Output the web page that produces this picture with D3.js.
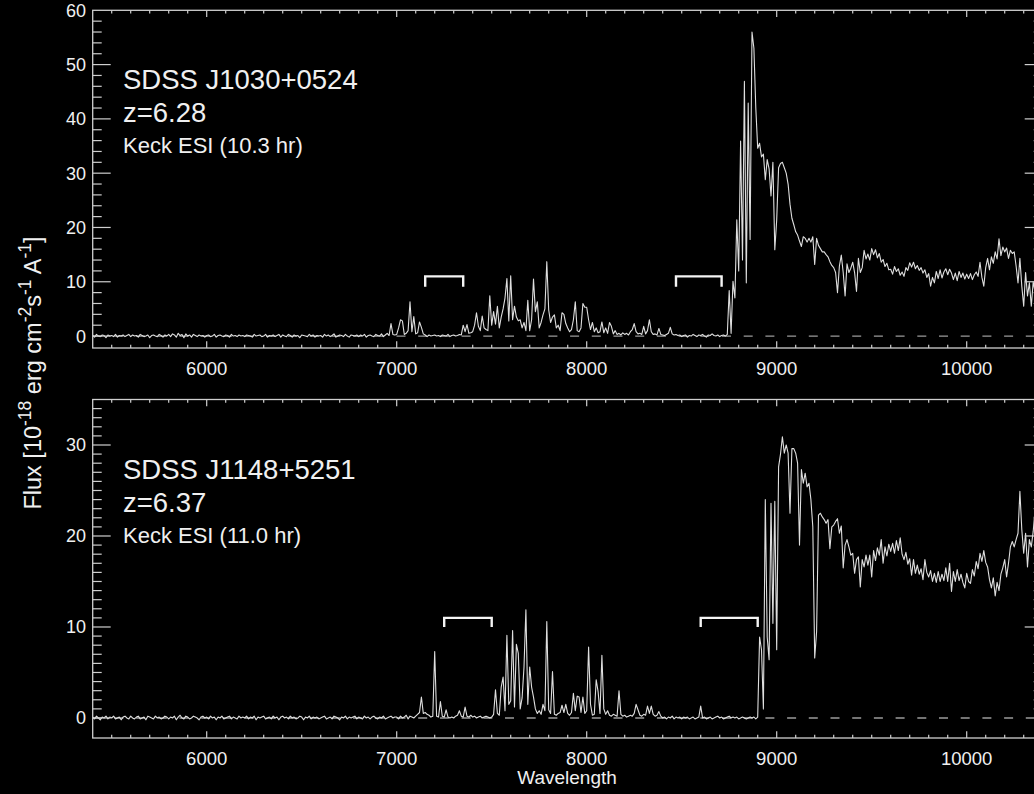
<!DOCTYPE html>
<html>
<head>
<meta charset="utf-8">
<script src="https://cdn.jsdelivr.net/npm/d3@7"></script>
<style>
  html, body { margin: 0; padding: 0; background: #000; }
  svg { display: block; }
  text { font-family: "Liberation Sans", Arial, Helvetica, sans-serif; fill: #f0f0f0; }
</style>
</head>
<body>
<svg id="chart" width="1034" height="794"></svg>
<script>
// Spectra sampled on a regular grid: WAVE_START + i * WAVE_STEP (Angstrom)
const WAVE_START = 5400;
const WAVE_STEP = 10;

const xTickValues = [6000, 7000, 8000, 9000, 10000];

// SDSS J1030+0524, flux in 1e-18 erg/cm^2/s/A, one row per 200 A
const fluxJ1030 = [
  /* 5400 */ 0.1, -0.2, 0.3, 0.0, -0.1, 0.2, 0.1, -0.3, 0.2, 0.0, 0.1, -0.1, 0.3, -0.2, 0.1, 0.0, 0.2, -0.1, 0.1, 0.3,
  /* 5600 */ -0.1, 0.2, 0.0, 0.1, -0.2, 0.3, 0.1, -0.1, 0.0, 0.2, -0.3, 0.1, 0.2, 0.0, -0.1, 0.3, 0.1, -0.2, 0.2, 0.0,
  /* 5800 */ 0.3, -0.1, 0.4, 0.2, -0.2, 0.5, 0.1, 0.3, -0.3, 0.4, 0.0, 0.2, -0.2, 0.3, 0.1, -0.1, 0.2, 0.0, 0.1, -0.2,
  /* 6000 */ 0.1, 0.2, -0.1, 0.0, 0.3, -0.2, 0.1, 0.2, 0.0, -0.1, 0.2, 0.1, -0.2, 0.3, 0.0, 0.1, -0.1, 0.2, 0.0, 0.1,
  /* 6200 */ -0.1, 0.2, 0.1, 0.0, -0.2, 0.3, 0.0, 0.1, 0.2, -0.1, 0.0, 0.3, -0.2, 0.1, 0.0, 0.2, -0.1, 0.1, 0.3, -0.2,
  /* 6400 */ 0.2, 0.0, -0.1, 0.3, 0.1, -0.2, 0.2, 0.0, 0.1, -0.3, 0.2, 0.1, 0.0, -0.1, 0.3, 0.0, 0.2, -0.2, 0.1, 0.0,
  /* 6600 */ 0.1, -0.2, 0.3, 0.0, 0.2, -0.1, 0.1, 0.4, -0.2, 0.0, 0.2, 0.1, -0.1, 0.3, 0.0, -0.2, 0.2, 0.1, 0.0, 0.2,
  /* 6800 */ -0.1, 0.2, 0.0, 0.3, -0.2, 0.1, 0.2, 0.0, -0.1, 0.3, 0.1, 0.0, 0.4, -0.1, 0.2, 0.5, 0.1, 2.3, 0.3, 0.2,
  /* 7000 */ 0.3, 1.5, 3.0, 2.8, 0.3, 0.5, 1.0, 6.3, 0.8, 3.6, 0.4, 0.6, 2.6, 1.6, 0.4, 0.2, -0.1, 0.2, 0.0, 0.1,
  /* 7200 */ 0.2, 0.0, 0.1, -0.1, 0.2, 0.1, 0.0, 0.3, -0.1, 0.1, 0.2, 0.0, 0.1, 0.3, 0.2, 2.0, 0.8, 2.1, 0.5, 0.6,
  /* 7400 */ 0.8, 2.0, 4.3, 1.8, 1.0, 3.7, 1.5, 1.2, 1.0, 7.4, 2.0, 4.5, 2.2, 5.5, 1.5, 3.5, 5.0, 7.0, 10.6, 2.8,
  /* 7600 */ 11.1, 3.0, 5.5, 3.5, 2.8, 3.0, 1.5, 2.5, 1.0, 6.6, 1.0, 3.0, 10.5, 4.5, 6.3, 1.5, 2.5, 3.9, 5.0, 13.7,
  /* 7800 */ 4.8, 2.5, 3.5, 3.9, 1.5, 2.0, 1.0, 4.3, 4.0, 2.3, 1.5, 0.8, 1.2, 3.0, 6.3, 1.0, 0.8, 1.5, 6.0, 5.3,
  /* 8000 */ 5.3, 3.0, 1.2, 2.5, 0.8, 1.5, 0.6, 0.8, 2.6, 0.6, 1.5, 0.5, 2.5, 1.8, 0.4, 1.0, 0.3, 0.5, 0.2, 0.6,
  /* 8200 */ 0.3, 0.5, 0.2, 0.8, 1.2, 2.3, 0.8, 0.4, 0.5, 0.3, 1.8, 0.4, 1.0, 3.0, 0.8, 0.3, 0.4, 0.2, 1.4, 0.3,
  /* 8400 */ 0.2, 0.1, 0.3, 0.5, 1.6, 0.4, 0.2, 0.3, 0.1, 0.2, -0.1, 0.1, 0.2, -0.2, 0.1, 0.0, 0.3, 0.1, -0.1, 0.2,
  /* 8600 */ 0.1, 0.3, 0.0, -0.2, 0.2, 0.1, 0.4, 0.1, 0.0, 0.2, -0.1, 0.1, 0.2, 0.0, 0.3, 8.4, 0.5, 10.1, 7.0, 21.4,
  /* 8800 */ 12.0, 35.9, 14.0, 46.9, 9.8, 42.9, 17.8, 56.0, 53.0, 42.0, 34.6, 35.5, 33.0, 33.5, 28.8, 32.5, 30.8, 25.8, 32.0, 15.9,
  /* 9000 */ 21.4, 31.0, 31.8, 32.0, 31.0, 30.0, 28.0, 24.3, 21.7, 20.5, 19.2, 18.6, 17.5, 16.5, 18.3, 18.0, 17.3, 18.0, 17.3, 18.3,
  /* 9200 */ 13.2, 18.0, 16.7, 16.1, 15.5, 15.5, 15.0, 14.6, 13.7, 13.0, 12.6, 11.7, 8.0, 12.9, 14.9, 11.7, 7.4, 13.3, 11.7, 12.5,
  /* 9400 */ 13.6, 11.7, 8.2, 14.3, 11.7, 12.6, 15.8, 14.2, 15.1, 14.0, 16.1, 15.0, 15.9, 14.4, 15.2, 13.6, 14.1, 12.8, 13.4, 12.2,
  /* 9600 */ 12.3, 11.4, 12.8, 11.9, 12.4, 11.2, 11.8, 11.0, 12.6, 12.1, 13.5, 12.7, 13.6, 12.4, 13.0, 12.1, 12.6, 11.6, 12.2, 10.8,
  /* 9800 */ 11.5, 9.2, 10.8, 9.8, 11.9, 10.6, 12.2, 10.7, 11.8, 12.4, 11.3, 12.3, 11.6, 10.4, 11.6, 10.2, 11.9, 10.8, 11.6, 10.5,
  /* 10000 */ 11.4, 10.6, 11.5, 10.4, 11.3, 11.8, 11.0, 13.6, 10.8, 9.2, 12.6, 14.3, 12.2, 14.6, 13.4, 15.5, 14.2, 17.9, 14.8, 16.4,
  /* 10200 */ 15.5, 16.2, 14.3, 15.8, 15.2, 15.5, 12.9, 9.8, 14.3, 9.2, 5.5, 11.7, 7.4, 9.8, 5.5, 10.0, 8.0, 6.5, 9.0, 7.5
];

// SDSS J1148+5251, flux in 1e-18 erg/cm^2/s/A, one row per 200 A
const fluxJ1148 = [
  /* 5400 */ 0.1, -0.1, 0.2, 0.0, -0.2, 0.1, 0.0, 0.2, -0.1, 0.1, 0.0, 0.2, -0.1, 0.0, 0.1, -0.2, 0.1, 0.2, 0.0, -0.1,
  /* 5600 */ 0.2, 0.0, -0.1, 0.1, 0.2, -0.1, 0.0, 0.1, -0.2, 0.2, 0.1, 0.0, -0.1, 0.2, 0.0, 0.1, -0.1, 0.0, 0.2, 0.1,
  /* 5800 */ -0.1, 0.1, 0.0, 0.2, -0.2, 0.1, 0.3, 0.0, -0.1, 0.2, 0.1, -0.1, 0.0, 0.2, 0.1, 0.0, -0.2, 0.1, 0.2, 0.0,
  /* 6000 */ 0.1, -0.1, 0.2, 0.0, 0.1, -0.2, 0.1, 0.0, 0.2, -0.1, 0.0, 0.1, 0.2, -0.1, 0.1, 0.0, -0.1, 0.2, 0.0, 0.1,
  /* 6200 */ 0.0, 0.2, -0.1, 0.1, 0.0, 0.2, -0.2, 0.1, 0.0, 0.1, 0.2, -0.1, 0.0, 0.1, -0.1, 0.2, 0.0, 0.1, -0.2, 0.1,
  /* 6400 */ 0.2, 0.0, 0.1, -0.1, 0.2, 0.0, 0.1, -0.1, 0.0, 0.2, 0.1, -0.2, 0.1, 0.0, 0.2, -0.1, 0.1, 0.0, 0.1, -0.1,
  /* 6600 */ 0.0, 0.1, 0.2, -0.1, 0.0, 0.1, -0.1, 0.2, 0.1, 0.0, -0.2, 0.1, 0.0, 0.2, -0.1, 0.1, 0.0, 0.1, 0.2, -0.1,
  /* 6800 */ 0.1, 0.0, -0.1, 0.2, 0.0, 0.1, -0.1, 0.1, 0.2, 0.0, -0.1, 0.1, 0.0, 0.2, -0.1, 0.0, 0.1, 0.2, 0.0, 0.1,
  /* 7000 */ 0.1, -0.1, 0.2, 0.0, 0.1, 0.3, -0.1, 0.2, 0.1, 0.0, 0.2, 0.4, 0.6, 2.3, 0.5, 0.6, 0.4, 0.3, 0.1, 0.2,
  /* 7200 */ 7.3, 0.2, 0.1, 1.8, 0.2, 0.1, 0.9, 0.1, 0.0, 0.1, 0.0, 0.2, 0.3, 0.8, 0.2, 0.1, 1.2, 0.2, 0.1, 0.3,
  /* 7400 */ 0.1, 0.2, 0.0, 0.1, 0.2, 0.0, 0.1, 0.2, 0.1, 0.0, 0.1, 0.4, 3.1, 0.5, 0.3, 3.4, 4.5, 0.8, 9.1, 1.5,
  /* 7600 */ 1.9, 9.6, 1.2, 8.1, 7.1, 1.0, 2.2, 5.6, 11.9, 1.5, 5.6, 3.4, 2.3, 1.0, 0.5, 0.8, 0.4, 1.5, 0.8, 10.6,
  /* 7800 */ 0.9, 0.5, 5.1, 0.4, 0.3, 0.5, 0.6, 1.4, 0.6, 1.5, 0.5, 0.3, 0.6, 2.7, 0.8, 2.4, 2.3, 0.6, 2.3, 0.5,
  /* 8000 */ 0.8, 7.8, 1.5, 0.3, 0.4, 4.2, 2.9, 0.5, 6.9, 1.0, 0.4, 0.8, 0.3, 0.2, 0.4, 0.3, 0.2, 3.0, 0.4, 0.2,
  /* 8200 */ 0.3, 0.1, 0.2, 0.3, 0.2, 0.5, 1.5, 0.9, 0.3, 0.2, 0.4, 0.3, 1.3, 0.5, 1.3, 0.4, 0.2, 0.3, 0.7, 0.2,
  /* 8400 */ 0.0, 0.1, -0.1, 0.1, 0.0, 0.2, -0.1, 0.1, 0.0, 0.1, -0.1, 0.1, 0.0, 0.1, -0.1, 0.0, 0.1, -0.1, 0.0, 0.1,
  /* 8600 */ 1.3, 0.0, 0.1, -0.1, 0.0, 0.1, -0.1, 0.0, 0.1, 0.2, 0.0, 0.1, -0.1, 0.0, 0.1, 0.2, 0.0, 0.1, 0.0, 0.1,
  /* 8800 */ -0.1, 0.0, 0.1, 0.0, -0.1, 0.0, 0.1, 0.0, 0.1, -0.1, 0.1, 8.9, 7.5, 1.0, 24.0, 8.9, 6.4, 23.6, 10.4, 23.8,
  /* 9000 */ 7.5, 27.6, 29.0, 30.9, 29.1, 30.0, 29.1, 22.5, 29.6, 29.6, 29.1, 28.0, 19.0, 27.3, 25.8, 26.9, 25.4, 25.8, 24.0, 21.0,
  /* 9200 */ 6.6, 9.5, 22.3, 22.5, 22.1, 21.8, 21.4, 21.8, 18.6, 21.0, 21.2, 21.6, 21.9, 20.3, 21.1, 16.5, 19.0, 19.6, 18.8, 17.9,
  /* 9400 */ 18.1, 15.9, 17.4, 17.7, 14.4, 17.4, 16.6, 17.9, 16.8, 17.9, 15.5, 18.4, 17.3, 18.7, 17.9, 19.6, 17.0, 18.8, 17.8, 19.1,
  /* 9600 */ 18.3, 19.2, 18.1, 19.5, 18.4, 19.8, 18.0, 17.4, 18.2, 16.9, 17.5, 15.7, 17.4, 15.9, 16.8, 15.8, 16.4, 15.2, 17.4, 16.0,
  /* 9800 */ 15.5, 16.2, 15.0, 15.9, 14.9, 16.1, 15.0, 15.8, 15.1, 16.5, 15.0, 17.0, 13.9, 16.1, 15.0, 16.3, 15.1, 15.8, 14.9, 14.3,
  /* 10000 */ 15.9, 15.0, 14.8, 16.3, 15.6, 17.2, 16.4, 18.1, 17.2, 18.4, 17.1, 16.6, 15.2, 14.3, 15.4, 13.4, 14.9, 14.0, 15.8, 16.5,
  /* 10200 */ 17.4, 15.5, 17.0, 18.8, 19.4, 18.8, 19.6, 20.3, 24.9, 20.7, 18.1, 20.3, 16.6, 19.6, 18.8, 20.5, 23.0, 17.5, 21.0, 19.0
];

const yTicksJ1030 = [0, 10, 20, 30, 40, 50, 60];
const yTicksJ1148 = [0, 10, 20, 30];

const labelsJ1030 = ["SDSS J1030+0524", "z=6.28", "Keck ESI (10.3 hr)"];
const labelsJ1148 = ["SDSS J1148+5251", "z=6.37", "Keck ESI (11.0 hr)"];

// Gunn-Peterson trough windows marked with brackets [start, end] in Angstrom
const troughsJ1030 = [[7150, 7350], [8470, 8710]];
const troughsJ1148 = [[7250, 7500], [8600, 8900]];
// bracket leg bottom / bar level in flux units
const bracketLevelsJ1030 = [9.1, 11.0];
const bracketLevelsJ1148 = [10.0, 11.0];

const svg = d3.select("#chart");
const W = 1034, H = 794;
svg.append("rect").attr("width", W).attr("height", H).attr("fill", "#000");

const x = d3.scaleLinear().domain([5400, 10400]).range([92.7, 1042.7]);
const frameColor = "#cfcfcf";

const panels = [
  { id: "j1030", flux: fluxJ1030, yDomain: [-2.2, 60], yRange: [348, 10.3], yTicks: yTicksJ1030, minorStep: 2,
    labels: labelsJ1030, troughs: troughsJ1030, levels: bracketLevelsJ1030, textTop: 89 },
  { id: "j1148", flux: fluxJ1148, yDomain: [-2.2, 35], yRange: [738, 399.5], yTicks: yTicksJ1148, minorStep: 1,
    labels: labelsJ1148, troughs: troughsJ1148, levels: bracketLevelsJ1148, textTop: 479 }
];

const defs = svg.append("defs");

panels.forEach(p => {
  const y = d3.scaleLinear().domain(p.yDomain).range(p.yRange);
  const [x0, x1] = x.range();
  const yb = p.yRange[0], yt = p.yRange[1];
  const g = svg.append("g").attr("class", "panel-" + p.id);

  defs.append("clipPath").attr("id", "clip-" + p.id)
    .append("rect").attr("x", x0).attr("y", yt).attr("width", x1 - x0).attr("height", yb - yt);

  const plot = g.append("g").attr("clip-path", `url(#clip-${p.id})`);

  // zero level
  plot.append("line")
    .attr("x1", x0).attr("x2", x1).attr("y1", y(0)).attr("y2", y(0))
    .attr("stroke", "#9a9a9a").attr("stroke-width", 1.3).attr("stroke-dasharray", "9,12.7");

  // spectrum
  const line = d3.line()
    .x((d, i) => x(WAVE_START + i * WAVE_STEP))
    .y(d => y(d));
  plot.append("path").datum(p.flux)
    .attr("d", line)
    .attr("fill", "none")
    .attr("stroke", "#dedede")
    .attr("stroke-width", 1.1)
    .attr("stroke-linejoin", "round");

  // trough brackets
  p.troughs.forEach(t => {
    const [lo, hi] = p.levels;
    const path = d3.path();
    path.moveTo(x(t[0]), y(lo));
    path.lineTo(x(t[0]), y(hi));
    path.lineTo(x(t[1]), y(hi));
    path.lineTo(x(t[1]), y(lo));
    plot.append("path").attr("d", path.toString())
      .attr("fill", "none").attr("stroke", "#f4f4f4").attr("stroke-width", 2.4);
  });

  // frame
  g.append("rect").attr("x", x0).attr("y", yt).attr("width", x1 - x0).attr("height", yb - yt)
    .attr("fill", "none").attr("stroke", frameColor).attr("stroke-width", 1.3);

  // x ticks (bottom and top, pointing inward)
  const xMinor = d3.range(5500, 10400, 100);
  xMinor.forEach(v => {
    const major = v % 1000 === 0;
    const len = major ? 6.7 : 3.3;
    g.append("line").attr("x1", x(v)).attr("x2", x(v)).attr("y1", yb).attr("y2", yb - len)
      .attr("stroke", frameColor).attr("stroke-width", 1.2);
    g.append("line").attr("x1", x(v)).attr("x2", x(v)).attr("y1", yt).attr("y2", yt + len)
      .attr("stroke", frameColor).attr("stroke-width", 1.2);
  });

  // y ticks (left and right, pointing inward)
  const yMinor = d3.range(p.minorStep, p.yDomain[1], p.minorStep);
  yMinor.forEach(v => {
    const major = Math.abs(v % 10) < 1e-9;
    const len = major ? 18 : 9;
    g.append("line").attr("x1", x0).attr("x2", x0 + len).attr("y1", y(v)).attr("y2", y(v))
      .attr("stroke", frameColor).attr("stroke-width", 1.2);
    g.append("line").attr("x1", x1).attr("x2", x1 - len).attr("y1", y(v)).attr("y2", y(v))
      .attr("stroke", frameColor).attr("stroke-width", 1.2);
  });
  g.append("line").attr("x1", x0).attr("x2", x0 + 18).attr("y1", y(0)).attr("y2", y(0))
    .attr("stroke", frameColor).attr("stroke-width", 1.2);

  // y tick labels
  g.selectAll("text.ylab").data(p.yTicks).join("text")
    .attr("class", "ylab")
    .attr("x", 86).attr("y", d => y(d)).attr("dy", "0.36em")
    .attr("text-anchor", "end").attr("font-size", 18)
    .text(d => d);

  // x tick labels
  g.selectAll("text.xlab").data(xTickValues).join("text")
    .attr("class", "xlab")
    .attr("x", d => x(d)).attr("y", yb + 26.5)
    .attr("text-anchor", "middle").attr("font-size", 18.5)
    .text(d => d);

  // object annotation
  const sizes = [27.5, 27.5, 22];
  const offs = [0, 32.7, 64.3];
  p.labels.forEach((s, i) => {
    g.append("text").attr("x", 123).attr("y", p.textTop + offs[i])
      .attr("font-size", sizes[i]).text(s);
  });
});

// x axis title
svg.append("text").attr("x", 567).attr("y", 784).attr("text-anchor", "middle")
  .attr("font-size", 19).text("Wavelength");

// y axis title with superscripts
const yTitle = svg.append("text")
  .attr("transform", "translate(41,373) rotate(-90)")
  .attr("text-anchor", "middle")
  .attr("font-size", 23.5);
const parts = [
  ["Flux [10", false], ["-18", true], [" erg cm", false], ["-2", true],
  ["s", false], ["-1", true], [" A", false], ["-1", true], ["]", false]
];
let raised = false;
parts.forEach(([t, sup]) => {
  const ts = yTitle.append("tspan").text(t);
  if (sup && !raised) { ts.attr("dy", -10).attr("font-size", 17.5); raised = true; }
  else if (sup) { ts.attr("font-size", 17.5); }
  else if (!sup && raised) { ts.attr("dy", 10); raised = false; }
});
</script>
</body>
</html>
